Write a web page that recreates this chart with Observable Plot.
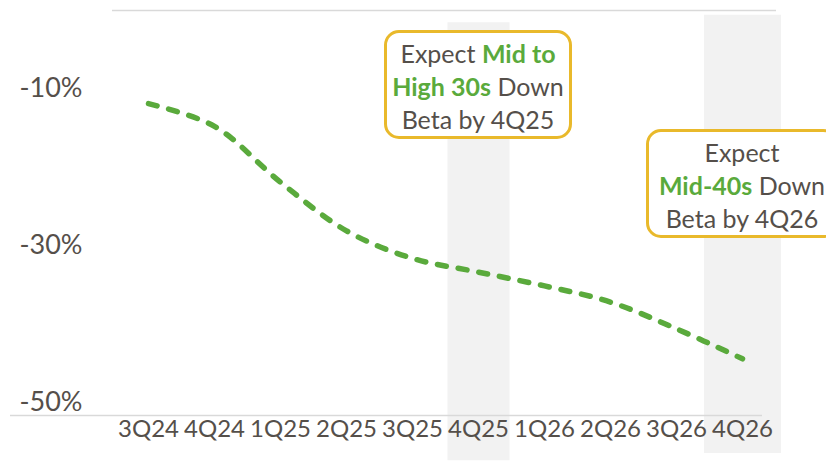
<!DOCTYPE html>
<html>
<head>
<meta charset="utf-8">
<script src="https://cdn.jsdelivr.net/npm/d3@7"></script>
<script src="https://cdn.jsdelivr.net/npm/@observablehq/plot@0.6"></script>
<style>
  html, body { margin: 0; padding: 0; background: #fff; }
  #wrap { position: relative; width: 826px; height: 462px; font-family: Lato, "Open Sans", sans-serif; color: #554F4A; }
  .box { position: absolute; box-sizing: border-box; border: 3px solid #E9B92B; border-radius: 15px; background: #fff;
         text-align: center; font-size: 25px; line-height: 33px; padding-top: 4px; color: #554F4A; white-space: nowrap; }
  .box b { color: #5AAA3C; font-weight: 700; }
</style>
</head>
<body>
<div id="wrap"></div>
<script>
const quarters = ["3Q24","4Q24","1Q25","2Q25","3Q25","4Q25","1Q26","2Q26","3Q26","4Q26"];
const beta = [-11.5, -14.3, -21.2, -27.2, -30.6, -32.3, -34.0, -36.0, -39.3, -43.0];
const yTicks = [-10, -30, -50];
const gridValues = [0, -50];
const highlightA = {quarter: "4Q25", top: -1.5, bottom: -55.6};
const highlightB = {quarter: "4Q26", top: -0.6, bottom: -54.7};

const data = quarters.map((q, i) => ({quarter: q, beta: beta[i]}));
const yLabelOffsets = [-3, -8, -13];

const chart = Plot.plot({
  width: 826,
  height: 462,
  marginTop: 10,
  marginBottom: 47,
  marginLeft: 147,
  marginRight: 84,
  style: {fontFamily: "Lato, 'Open Sans', sans-serif", color: "#554F4A", background: "#fff"},
  x: {type: "point", domain: quarters, padding: 0},
  y: {domain: [-50, 0]},
  marks: [
    Plot.ruleX([highlightA], {x: "quarter", y1: "top", y2: "bottom", stroke: "#F2F2F2", strokeWidth: 62}),
    Plot.ruleX([highlightB], {x: "quarter", y1: "top", y2: "bottom", stroke: "#F2F2F2", strokeWidth: 77}),
    Plot.ruleY([gridValues[0]], {stroke: "#D9D9D9", strokeWidth: 1.5, insetLeft: -35, insetRight: -34}),
    Plot.ruleY([gridValues[1]], {stroke: "#D9D9D9", strokeWidth: 1.5, insetLeft: -137, insetRight: -20}),
    ...yTicks.map((t, i) => Plot.axisY({ticks: [t], tickSize: 0, tickPadding: 65, tickFormat: d => d + "%",
                                        fontSize: 27, dy: yLabelOffsets[i], label: null})),
    Plot.axisX({tickSize: 0, tickPadding: 4, fontSize: 24, label: null}),
    Plot.line(data, {x: "quarter", y: "beta", stroke: "#5AAA3C", strokeWidth: 5.5, strokeDasharray: "9,12",
                     strokeLinecap: "round", curve: "catmull-rom"})
  ]
});

const wrap = document.getElementById("wrap");
wrap.appendChild(chart);

const boxes = [
  {left: 384, top: 30, width: 188, height: 109, html: 'Expect <b>Mid to</b><br><b>High 30s</b> Down<br>Beta by 4Q25'},
  {left: 646, top: 129, width: 192, height: 109, html: 'Expect<br><b>Mid-40s</b> Down<br>Beta by 4Q26'}
];
for (const b of boxes) {
  const d = document.createElement("div");
  d.className = "box";
  d.style.left = b.left + "px";
  d.style.top = b.top + "px";
  d.style.width = b.width + "px";
  d.style.height = b.height + "px";
  d.innerHTML = b.html;
  wrap.appendChild(d);
}
document.body.style.overflow = "hidden";
</script>
</body>
</html>
